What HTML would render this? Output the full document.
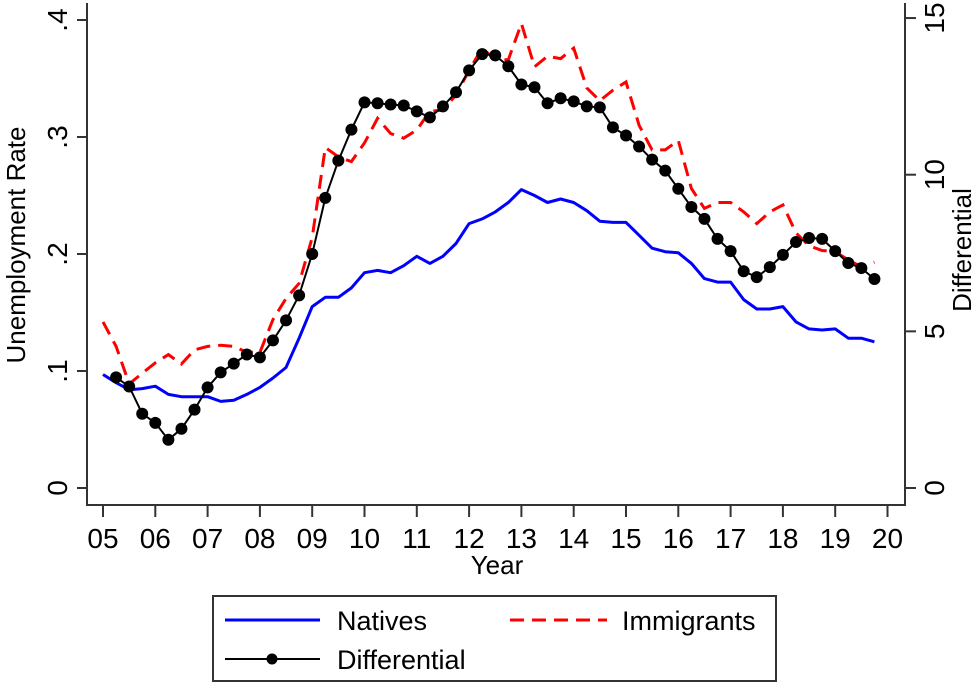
<!DOCTYPE html>
<html><head><meta charset="utf-8"><style>
body{margin:0;background:#fff;}
svg{display:block;font-family:"Liberation Sans",Arial,sans-serif;}
</style></head><body>
<svg id="chart" width="975" height="686" viewBox="0 0 975 686">
<rect width="975" height="686" fill="#fff"/>
<g id="axes"></g>
<g id="series"></g>
<text x="25" y="245" font-size="26" text-anchor="middle" transform="rotate(-90 25 245)">Unemployment Rate</text>
<text x="971" y="250" font-size="26" text-anchor="middle" transform="rotate(-90 971 250)">Differential</text>
<text x="497" y="574" font-size="26" text-anchor="middle">Year</text>
<g>
<rect x="213" y="596" width="563" height="85" fill="#fff" stroke="#333" stroke-width="2"/>
<line x1="225" y1="620" x2="320" y2="620" stroke="#0000ff" stroke-width="3"/>
<text x="337" y="630" font-size="27">Natives</text>
<line x1="510" y1="620" x2="607" y2="620" stroke="#ff0000" stroke-width="3" stroke-dasharray="14,8"/>
<text x="622" y="630" font-size="27">Immigrants</text>
<line x1="225" y1="659" x2="320" y2="659" stroke="#000" stroke-width="2"/>
<circle cx="272" cy="659" r="5.5" fill="#000"/>
<text x="337" y="669" font-size="27">Differential</text>
</g>
</svg>
<script>
const years = ["05","06","07","08","09","10","11","12","13","14","15","16","17","18","19","20"];
const leftTicks = [0, 0.1, 0.2, 0.3, 0.4];
const leftTickLabels = ["0", ".1", ".2", ".3", ".4"];
const rightTicks = [0, 5, 10, 15];
const natives = [.097,.090,.084,.085,.087,.080,.078,.078,.078,.074,.075,.080,.086,.094,.103,.128,.155,.163,.163,.171,.184,.186,.184,.190,.198,.192,.198,.209,.226,.230,.236,.244,.255,.250,.244,.247,.244,.237,.228,.227,.227,.216,.205,.202,.201,.192,.179,.176,.176,.161,.153,.153,.155,.142,.136,.135,.136,.128,.128,.125];
const immigrants = [.142,.121,.089,.098,.107,.114,.106,.118,.121,.122,.121,.116,.116,.144,.162,.175,.214,.291,.283,.279,.295,.316,.303,.299,.306,.322,.323,.336,.357,.376,.366,.366,.397,.360,.369,.367,.376,.342,.331,.340,.347,.310,.289,.289,.297,.256,.239,.244,.244,.236,.226,.236,.242,.218,.207,.203,.202,.195,.189,.193];
const differential = [3.53,3.24,2.37,2.08,1.54,1.89,2.50,3.21,3.69,3.97,4.26,4.17,4.71,5.35,6.15,7.47,9.26,10.45,11.44,12.31,12.28,12.24,12.21,12.02,11.83,12.18,12.63,13.33,13.85,13.81,13.46,12.88,12.79,12.28,12.44,12.34,12.18,12.15,11.51,11.25,10.90,10.48,10.13,9.55,8.97,8.59,7.95,7.56,6.92,6.73,7.05,7.44,7.85,7.98,7.95,7.56,7.18,7.02,6.67];

const NS="http://www.w3.org/2000/svg";
const X0=103, PX_YEAR=52.3, Y0=488, PX_LEFT=1170, PX_RIGHT=31.33;
function xs(t){return X0+t*PX_YEAR;}
function yl(v){return Y0-v*PX_LEFT;}
function yr(v){return Y0-v*PX_RIGHT;}
function mk(tag,attrs,parent){const e=document.createElementNS(NS,tag);for(const k in attrs)e.setAttribute(k,attrs[k]);parent.appendChild(e);return e;}

const ax=document.getElementById('axes');
let e;
e=mk('line',{x1:87,y1:3,x2:87,y2:505,stroke:'#333','stroke-width':2},ax);


e=mk('line',{x1:905,y1:3,x2:905,y2:505,stroke:'#333','stroke-width':2},ax);


e=mk('line',{x1:86,y1:505,x2:906,y2:505,stroke:'#333','stroke-width':2},ax);


years.forEach((lab,i)=>{
  const x=xs(i);
  e=mk('line',{x1:x,y1:505,x2:x,y2:517,stroke:'#333','stroke-width':2},ax);
  
  
  e=mk('text',{x:x,y:548,'font-size':28,'text-anchor':'middle'},ax);
  e.textContent=lab;
  
  
});
leftTicks.forEach((v,i)=>{
  const y=yl(v);
  e=mk('line',{x1:77,y1:y,x2:87,y2:y,stroke:'#333','stroke-width':2},ax);
  
  
  e=mk('text',{x:67,y:y,'font-size':28,'text-anchor':'middle',transform:'rotate(-90 67 '+y+')'},ax);
  e.textContent=leftTickLabels[i];
  
  
});
rightTicks.forEach(v=>{
  const y=yr(v);
  e=mk('line',{x1:905,y1:y,x2:916,y2:y,stroke:'#333','stroke-width':2},ax);
  
  
  e=mk('text',{x:944,y:y,'font-size':28,'text-anchor':'middle',transform:'rotate(-90 944 '+y+')'},ax);
  e.textContent=String(v);
  
  
});

const sg=document.getElementById('series');
function path(arr,start,yf){return arr.map((v,i)=>(i?'L':'M')+xs(start+i*0.25).toFixed(1)+','+yf(v).toFixed(1)).join('');}
e=mk('path',{d:path(natives,0,yl),fill:'none',stroke:'#0000ff','stroke-width':3,'stroke-linejoin':'round'},sg);


e=mk('path',{d:path(immigrants,0,yl),fill:'none',stroke:'#ff0000','stroke-width':3,'stroke-dasharray':'14,8'},sg);


e=mk('path',{d:path(differential,0.25,yr),fill:'none',stroke:'#000','stroke-width':2},sg);


differential.forEach((v,i)=>{
  const c=mk('circle',{cx:xs(0.25+i*0.25),cy:yr(v),r:6,fill:'#000'},sg);
  
  
});
</script>
</body></html>
